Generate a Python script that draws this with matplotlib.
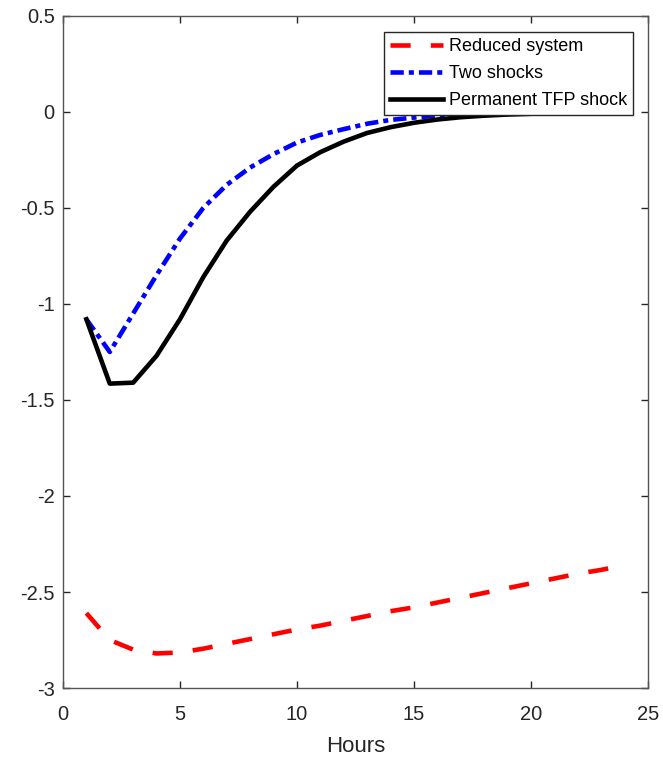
import matplotlib
matplotlib.use("Agg")
import matplotlib.pyplot as plt

plt.rcParams['font.family'] = ['Liberation Sans', 'DejaVu Sans']

hours = list(range(1, 25))

reduced_system = [-2.61, -2.75, -2.80, -2.82, -2.815, -2.795, -2.77, -2.745,
                  -2.72, -2.695, -2.675, -2.65, -2.625, -2.60, -2.58, -2.555,
                  -2.53, -2.505, -2.48, -2.455, -2.43, -2.405, -2.385, -2.36]

two_shocks = [-1.08, -1.25, -1.05, -0.85, -0.66, -0.50, -0.38, -0.29,
              -0.22, -0.16, -0.12, -0.09, -0.062, -0.042, -0.03, -0.02,
              -0.014, -0.009, -0.006, -0.004, -0.003, -0.002, -0.001, -0.001]

permanent_tfp = [-1.08, -1.415, -1.41, -1.27, -1.08, -0.86, -0.67, -0.52,
                 -0.39, -0.28, -0.21, -0.155, -0.11, -0.08, -0.057, -0.04,
                 -0.028, -0.02, -0.014, -0.01, -0.007, -0.005, -0.003, -0.002]

series_labels = ["Reduced system", "Two shocks", "Permanent TFP shock"]
x_ticks = [0, 5, 10, 15, 20, 25]
y_ticks = [-3, -2.5, -2, -1.5, -1, -0.5, 0, 0.5]
y_tick_labels = ["-3", "-2.5", "-2", "-1.5", "-1", "-0.5", "0", "0.5"]

fig = plt.figure(figsize=(6.63, 7.57), dpi=100)
ax = fig.add_axes([0.095, 0.0911, 0.882, 0.888])

lw = 3.3
ax.plot(hours, reduced_system, color='#ff0000', lw=lw,
        linestyle=(0, (4.4, 4.4)), dash_capstyle='butt', label=series_labels[0])
ax.plot(hours, two_shocks, color='#0000ff', lw=lw,
        linestyle=(0, (2.9, 1.1, 1.1, 1.1)), dash_capstyle='butt', label=series_labels[1])
ax.plot(hours, permanent_tfp, color='black', lw=lw, label=series_labels[2])

ax.set_xlim(0, 25)
ax.set_ylim(-3, 0.5)
ax.set_xticks(x_ticks)
ax.set_yticks(y_ticks)
ax.set_yticklabels(y_tick_labels)
ax.tick_params(direction='in', length=5, width=1, labelsize=14.5,
               top=True, right=True, colors='#262626')
ax.tick_params(axis='x', pad=12)
ax.tick_params(axis='y', pad=6)
for s in ax.spines.values():
    s.set_color('#555555')
    s.set_linewidth(1.0)

ax.set_xlabel("Hours", fontsize=16, color='#262626', labelpad=9)

leg = ax.legend(loc='upper right', bbox_to_anchor=(0.975, 0.976),
                fontsize=13, frameon=True, fancybox=False, framealpha=1,
                edgecolor='#262626', handlelength=2.95, handletextpad=0.3,
                borderpad=0.35, labelspacing=0.55, borderaxespad=0)
leg.get_frame().set_linewidth(1.0)

fig.savefig("out.png", dpi=100)
